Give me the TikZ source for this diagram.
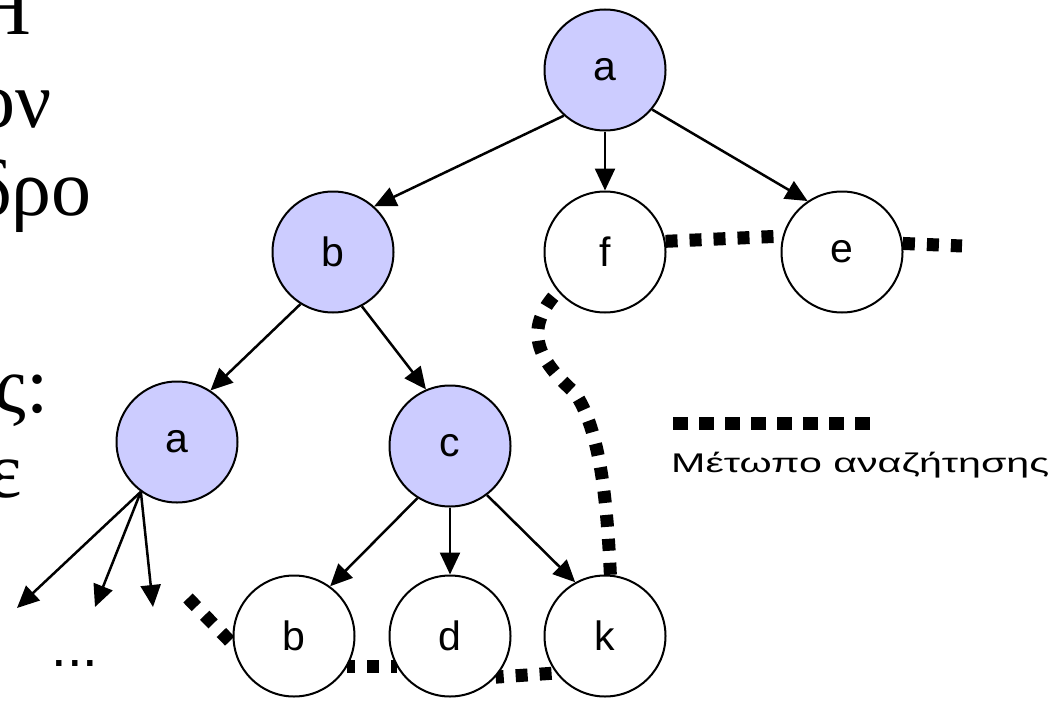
\documentclass[tikz,border=0pt]{standalone}
\usepackage{fontspec}
\usepackage{graphicx}
\setmainfont{Liberation Serif}
\newfontfamily\arialf{Liberation Sans}
\usetikzlibrary{arrows.meta}
\definecolor{nodeblue}{HTML}{CCCCFF}
\pgfdeclarelayer{bg}
\pgfsetlayers{bg,main}
\begin{document}
\begin{tikzpicture}[x=1pt,y=-1pt,
  tnode/.style={circle,draw=black,line width=2pt,minimum size=121pt,inner sep=0pt,
    font=\arialf\fontsize{41}{41}\selectfont},
  visited/.style={tnode,fill=nodeblue},
  opennode/.style={tnode,fill=white},
  treearrow/.style={line width=2.5pt,-{Triangle[length=22pt,width=20pt]}},
  frontier/.style={line width=13pt,dash pattern=on 12pt off 12pt},
  slide/.style={font=\fontsize{80}{88}\selectfont,inner sep=0pt,anchor=base east}]
\useasboundingbox (0,0) rectangle (1062,701);

% slide text fragments (cut by the left edge)
\node[slide] (t1) at (31,35) {Η};
\node[slide] (t2) at (52,127) {ον};
\node[slide] (t3) at (92,215) {δρο};
\node[slide] (t4) at (49,412) {ς:};
\node[slide] (t5) at (22,497) {ε};

% tree nodes
\node[visited] (a1) at (605,70) {a};
\node[visited] (b1) at (333,252) {b};
\node[opennode] (f) at (605,252) {f};
\node[opennode] (e) at (842,252) {e};
\node[visited] (a2) at (177,442) {a};
\node[visited] (c) at (450,446) {c};
\node[opennode] (b2) at (294,636) {b};
\node[opennode] (d) at (450,636) {d};
\node[opennode] (k) at (605,636) {k};

% free ends
\coordinate (x1) at (17,608);
\coordinate (x2) at (95,607);
\coordinate (x3) at (153,607);
\coordinate (fl) at (188,598);
\coordinate (fr) at (962,246);

% arrows
\draw[treearrow] (a1.-132) -- (b1.48);
\draw[treearrow] (a1.-90) -- (f.90);
\draw[treearrow] (a1.-40) -- (e.124);
\draw[treearrow] (b1.-122) -- (a2.57);
\draw[treearrow] (b1.-62) -- (c.113);
\draw[treearrow] (a2.-126) -- (x1);
\draw[treearrow] (a2.-126) -- (x2);
\draw[treearrow] (a2.-126) -- (x3);
\draw[treearrow] (c.-122) -- (b2.54);
\draw[treearrow] (c.-90) -- (d.90);
\draw[treearrow] (c.-53) -- (k.119);

% search frontier
\begin{pgfonlayer}{bg}
\draw[frontier] (fl) -- (b2.-172);
\draw[frontier,dash phase=4pt] (b2.-30) -- (d.-150);
\draw[frontier,dash phase=4pt] (d.-42) -- (k.-143);
\draw[frontier] (k.85) .. controls (607,500) and (600,430) .. (575,393)
   .. controls (538,360) and (522,330) .. (f.-140);
\draw[frontier] (f.10) -- (e.165);
\draw[frontier] (e.8) -- (fr);
\end{pgfonlayer}

% dots under the left subtree
\node[anchor=base,inner sep=0pt] (dots) at (75,666) {\arialf\fontsize{56}{56}\selectfont ...};

% legend
\coordinate (l1) at (673,423.5);
\coordinate (l2) at (870,423.5);
\draw[line width=13pt,dash pattern=on 15pt off 11pt] (l1) -- (l2);
\node[anchor=base west,inner sep=0pt] (legend) at (671,472)
  {\resizebox{378pt}{\height}{\arialf\fontsize{27}{27}\selectfont Μέτωπο αναζήτησης}};
\end{tikzpicture}
\end{document}
